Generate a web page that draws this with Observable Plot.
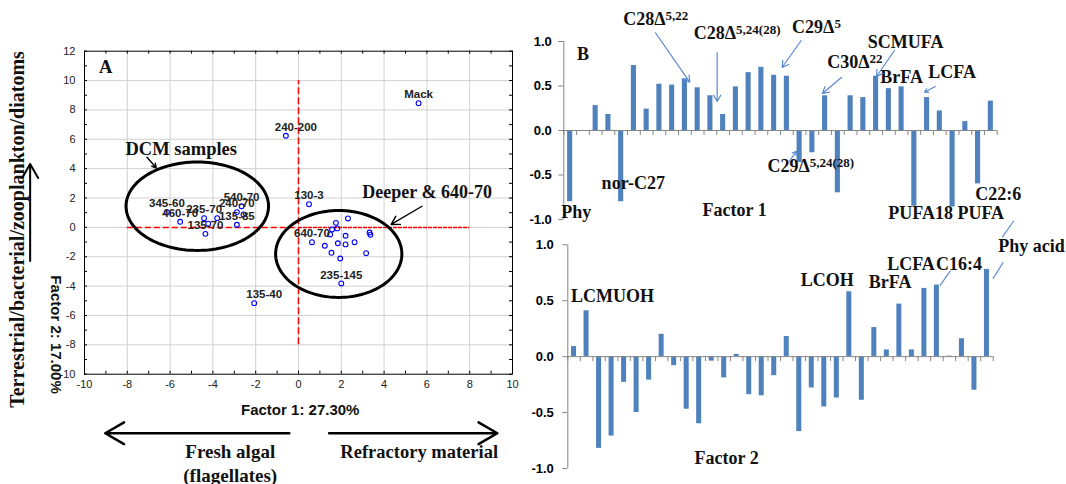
<!DOCTYPE html>
<html>
<head>
<meta charset="utf-8">
<script src="https://cdn.jsdelivr.net/npm/d3@7"></script>
<script src="https://cdn.jsdelivr.net/npm/@observablehq/plot@0.6"></script>
<style>
  html, body { margin: 0; padding: 0; background: #fff; overflow: hidden; }
  #chart { position: relative; width: 1066px; height: 484px; }
  #chart svg { position: absolute; left: 0; top: 0; background: transparent; overflow: visible; }
</style>
</head>
<body>
<div id="chart"></div>
<script>
// ---- Panel A: PCA sample scores ----
const sampleLabels = [
  "Mack", "240-200", "130-3",
  "345-60", "460-70", "235-70", "", "", "135-70", "135-85", "240-70", "540-70", "",
  "", "", "", "", "", "", "", "",
  "640-70", "", "", "", "", "", "", "", "235-145", "135-40"
];
const factor1Scores = [
  5.61, -0.59, 0.49,
  -6.15, -5.53, -4.41, -4.22, -3.80, -4.35, -2.88, -2.88, -2.66, -2.57,
  1.75, 2.31, 1.57, 1.81, 1.48, 2.20, 3.32, 3.36,
  0.63, 1.23, 1.84, 2.20, 2.62, 1.54, 1.95, 3.16, 2.00, -2.07
];
const factor2Scores = [
  8.46, 6.24, 1.58,
  1.04, 0.38, 0.63, 0.25, 0.63, -0.44, 0.18, 1.04, 1.44, 0.88,
  0.31, 0.61, -0.14, -0.07, -0.48, -0.57, -0.35, -0.50,
  -1.01, -1.25, -1.08, -1.16, -1.01, -1.73, -2.12, -1.76, -3.82, -5.16
];

// ---- Panel B: variable loadings on factors 1 and 2 ----
const variableIndex = [1, 2, 3, 4, 5, 6, 7, 8, 9, 10, 11, 12, 13, 14, 15, 16, 17,
  18, 19, 20, 21, 22, 23, 24, 25, 26, 27, 28, 29, 30, 31, 32, 33, 34];
const factor1Loadings = [
  -0.80, 0.00, 0.28, 0.18, -0.80, 0.73, 0.24, 0.52, 0.51, 0.58, 0.48, 0.39,
  0.18, 0.49, 0.65, 0.71, 0.62, 0.61, -0.36, -0.25, 0.39, -0.70, 0.39, 0.37,
  0.61, 0.47, 0.49, -0.85, 0.37, 0.22, -0.86, 0.10, -0.60, 0.33
];
const factor2Loadings = [
  0.09, 0.41, -0.82, -0.71, -0.23, -0.50, -0.21, 0.20, -0.08, -0.47, -0.60, -0.04,
  -0.19, 0.02, -0.34, -0.35, -0.17, 0.18, -0.67, -0.28, -0.45, -0.37, 0.58, -0.39,
  0.26, 0.06, 0.47, 0.06, 0.61, 0.64, 0.005, 0.16, -0.30, 0.78
];
const loadingTicks = [-1, -0.5, 0, 0.5, 1];

// ---- shared styles ----
const sans = "'Liberation Sans', Arial, Helvetica, sans-serif";
const serif = "'Liberation Serif', 'Times New Roman', Times, serif";
const barBlue = "#4f81bd";
const noteBlue = "#5a8ad0";
const axisGray = "#868686";
const red = "#ff0000";

const samples = sampleLabels.map((label, i) => ({label, f1: factor1Scores[i], f2: factor2Scores[i]}));
const loadings = variableIndex.map((k, i) => ({k, f1: factor1Loadings[i], f2: factor2Loadings[i]}));
const sideLabels = new Set(["240-200", "135-40"]);

// closed outline of an ellipse in data units
function ellipse(cx, cy, rx, ry) {
  return d3.range(0, 361, 3).map(a => {
    const t = a * Math.PI / 180;
    return {x: cx + rx * Math.cos(t), y: cy + ry * Math.sin(t)};
  });
}

// turn "base^sup" text into a base tspan followed by a raised superscript
function applySuperscripts(svg) {
  const ns = "http://www.w3.org/2000/svg";
  svg.querySelectorAll("text").forEach(t => {
    const s = t.textContent;
    const k = s.indexOf("^");
    if (k < 0) return;
    t.textContent = "";
    const base = document.createElementNS(ns, "tspan");
    base.textContent = s.slice(0, k);
    const sup = document.createElementNS(ns, "tspan");
    sup.textContent = s.slice(k + 1);
    sup.setAttribute("font-size", "13");
    sup.setAttribute("dy", "-5");
    t.append(base, sup);
  });
}

const bigSerif = {fontFamily: serif, fontWeight: "bold", fill: "#111"};

// ---- Panel A ----
const plotA = Plot.plot({
  width: 1066, height: 484,
  marginLeft: 84, marginRight: 554, marginTop: 50.7, marginBottom: 110.3,
  x: {domain: [-10, 10]},
  y: {domain: [-10, 12]},
  marks: [
    Plot.ruleX(d3.range(-8, 9, 2), {stroke: "#d0d0d0"}),
    Plot.ruleY(d3.range(-8, 11, 2), {stroke: "#d0d0d0"}),
    Plot.ruleX([0], {y1: -8, y2: 10, stroke: red, strokeWidth: 1.5, strokeDasharray: "7,3"}),
    Plot.ruleY([0], {x1: -8, x2: 0, stroke: red, strokeWidth: 1.5, strokeDasharray: "6,3"}),
    Plot.ruleY([0], {x1: 0, x2: 8, stroke: red, strokeWidth: 1.5, strokeDasharray: "4,1"}),
    Plot.line(ellipse(-4.73, 1.44, 3.33, 3.01), {x: "x", y: "y", stroke: "black", strokeWidth: 3}),
    Plot.line(ellipse(1.88, -1.81, 2.95, 2.96), {x: "x", y: "y", stroke: "black", strokeWidth: 3}),
    Plot.dot(samples, {x: "f1", y: "f2", r: 2.4, stroke: "#0000ff", strokeWidth: 1.1, fill: "none"}),
    Plot.text(samples.filter(d => d.label && !sideLabels.has(d.label)), {
      x: "f1", y: "f2", text: "label", dy: -8.5,
      fontFamily: sans, fontWeight: "bold", fontSize: 11.5, fill: "#222"
    }),
    Plot.text(samples.filter(d => sideLabels.has(d.label)), {
      x: "f1", y: "f2", text: "label", dx: 10, dy: -8.5,
      fontFamily: sans, fontWeight: "bold", fontSize: 11.5, fill: "#222"
    }),
    Plot.frame({stroke: "black"}),
    // inward tick marks on all four sides
    Plot.ruleX(d3.range(-10, 11), {y1: -10, y2: -9.8, stroke: "black"}),
    Plot.ruleX(d3.range(-10, 11), {y1: 12, y2: 11.8, stroke: "black"}),
    Plot.ruleY(d3.range(-10, 13), {x1: -10, x2: -9.86, stroke: "black"}),
    Plot.ruleY(d3.range(-10, 13), {x1: 10, x2: 9.86, stroke: "black"}),
    Plot.axisX(d3.range(-10, 11, 2), {
      anchor: "bottom", tickSize: 0, tickPadding: 6, label: null,
      tickFormat: d => String(d), fontFamily: sans, fontSize: 11, fill: "#222"
    }),
    Plot.axisY(d3.range(-10, 13, 2), {
      anchor: "left", tickSize: 0, tickPadding: 9, label: null,
      tickFormat: d => String(d), fontFamily: sans, fontSize: 11, fill: "#222"
    }),
    // annotations
    Plot.text(["A"], {x: -9.01, y: 10.91, ...bigSerif, fontSize: 18.5}),
    Plot.text(["DCM samples"], {x: -5.48, y: 5.35, ...bigSerif, fontSize: 18.5}),
    Plot.arrow([0], {x1: -7.08, y1: 4.78, x2: -6.65, y2: 4.06, stroke: "black", strokeWidth: 1.4, headLength: 9}),
    Plot.text(["Deeper & 640-70"], {x: 6.01, y: 2.36, ...bigSerif, fontSize: 18}),
    Plot.arrow([0], {x1: 5.77, y1: 1.44, x2: 4.33, y2: 0.2, stroke: "black", strokeWidth: 1.4, headLength: 10}),
    Plot.text(["Factor 1: 27.30%"], {x: 0.08, y: -12.47, fontFamily: sans, fontWeight: "bold", fontSize: 15, fill: "#111"}),
    Plot.text(["Factor 2: 17.00%"], {x: -11.32, y: -7.3, rotate: 90, fontFamily: sans, fontWeight: "bold", fontSize: 15, fill: "#111"}),
    Plot.text(["Terrestrial/bacterial/zooplankton/diatoms"], {x: -13.14, y: -0.14, rotate: -90, ...bigSerif, fontSize: 20}),
    Plot.arrow([0], {x1: -12.54, y1: -2.29, x2: -12.54, y2: 4.31, stroke: "black", strokeWidth: 2, headLength: 12}),
    Plot.arrow([0], {x1: -0.43, y1: -14.02, x2: -9.03, y2: -14.02, stroke: "black", strokeWidth: 2.5, headLength: 13}),
    Plot.arrow([0], {x1: 1.43, y1: -14.02, x2: 9.29, y2: -14.02, stroke: "black", strokeWidth: 2.5, headLength: 13}),
    Plot.text(["Fresh algal"], {x: -3.19, y: -15.31, ...bigSerif, fontSize: 19}),
    Plot.text(["(flagellates)"], {x: -3.19, y: -16.9, ...bigSerif, fontSize: 19}),
    Plot.text(["Refractory material"], {x: 5.64, y: -15.31, ...bigSerif, fontSize: 18.5})
  ]
});

// ---- Panel B, factor 1 loadings ----
const notesB1 = [
  {t: "B", x: 2.0, y: 0.86, start: false},
  {t: "C28Δ^5,22", x: 5.16, y: 1.255, start: true},
  {t: "C28Δ^5,24(28)", x: 10.7, y: 1.09, start: true},
  {t: "C29Δ^5", x: 18.41, y: 1.157, start: true},
  {t: "C30Δ^22", x: 21.16, y: 0.767, start: true},
  {t: "SCMUFA", x: 27.32, y: 0.99, start: false},
  {t: "BrFA", x: 27.0, y: 0.598, start: false},
  {t: "LCFA", x: 30.96, y: 0.65, start: false},
  {t: "C29Δ^5,24(28)", x: 16.48, y: -0.404, start: true},
  {t: "nor-C27", x: 5.95, y: -0.592, start: false},
  {t: "Phy", x: 1.48, y: -0.918, start: false},
  {t: "Factor 1", x: 13.9, y: -0.891, start: false},
  {t: "PUFA18 PUFA", x: 30.5, y: -0.929, start: false},
  {t: "C22:6", x: 34.58, y: -0.711, start: false}
];
const arrowsB1 = [
  {x1: 7.69, y1: 1.098, x2: 10.38, y2: 0.543},
  {x1: 12.53, y1: 0.876, x2: 12.53, y2: 0.326},
  {x1: 19.12, y1: 1.011, x2: 17.63, y2: 0.708},
  {x1: 22.28, y1: 0.596, x2: 20.79, y2: 0.416},
  {x1: 26.44, y1: 0.899, x2: 25.03, y2: 0.607},
  {x1: 29.65, y1: 0.494, x2: 28.79, y2: 0.43},
  {x1: 18.15, y1: -0.356, x2: 18.75, y2: -0.233}
];

const categoryBounds = d3.range(0.5, 35, 1);

function loadingPanel(field, margins, tickDepth, tickPadding, notes, extraMarks) {
  return Plot.plot({
    width: 1066, height: 484,
    ...margins,
    x: {domain: [0.5, 34.5], axis: null},
    y: {domain: [-1, 1]},
    marks: [
      Plot.rect(loadings, {x1: d => d.k - 0.2, x2: d => d.k + 0.2, y1: 0, y2: field, fill: barBlue}),
      Plot.ruleY([0], {x1: 0.5, x2: 34.5, stroke: axisGray}),
      Plot.ruleX(categoryBounds, {y1: 0, y2: -tickDepth, stroke: axisGray}),
      Plot.ruleX([0.5], {y1: -1, y2: 1, stroke: axisGray}),
      Plot.axisY(loadingTicks, {
        anchor: "left", tickSize: 5, tickPadding, label: null, stroke: axisGray,
        tickFormat: d => d.toFixed(1), fontFamily: sans, fontWeight: "bold", fontSize: 13, fill: "#000"
      }),
      Plot.text(notes.filter(d => !d.start), {x: "x", y: "y", text: "t", ...bigSerif, fontSize: 18}),
      Plot.text(notes.filter(d => d.start), {x: "x", y: "y", text: "t", textAnchor: "start", ...bigSerif, fontSize: 18}),
      ...extraMarks
    ]
  });
}

const plotB1 = loadingPanel("f1",
  {marginLeft: 563.3, marginRight: 69.3, marginTop: 41, marginBottom: 265},
  0.056, 7, notesB1,
  [Plot.arrow(arrowsB1, {x1: "x1", y1: "y1", x2: "x2", y2: "y2", stroke: noteBlue, strokeWidth: 1.2, headLength: 9})]
);

// ---- Panel B, factor 2 loadings ----
const notesB2 = [
  {t: "LCMUOH", x: 4.07, y: 0.536, start: false},
  {t: "Factor 2", x: 13.19, y: -0.909, start: false},
  {t: "LCOH", x: 21.24, y: 0.686, start: false},
  {t: "BrFA", x: 26.26, y: 0.664, start: false},
  {t: "LCFA", x: 27.93, y: 0.829, start: false},
  {t: "C16:4", x: 31.76, y: 0.829, start: false},
  {t: "Phy acid", x: 37.57, y: 0.983, start: false}
];
const leadersB2 = [
  {x1: 36.15, y1: 1.215, x2: 35.22, y2: 1.066},
  {x1: 35.3, y1: 0.843, x2: 34.47, y2: 0.695},
  {x1: 31.09, y1: 0.769, x2: 30.24, y2: 0.635}
];

const plotB2 = loadingPanel("f2",
  {marginLeft: 567.3, marginRight: 73.3, marginTop: 244.3, marginBottom: 16},
  0.045, 9, notesB2,
  [Plot.link(leadersB2, {x1: "x1", y1: "y1", x2: "x2", y2: "y2", stroke: noteBlue, strokeWidth: 1.1})]
);

const chart = document.getElementById("chart");
for (const svg of [plotA, plotB1, plotB2]) {
  applySuperscripts(svg);
  chart.append(svg);
}
</script>
</body>
</html>
